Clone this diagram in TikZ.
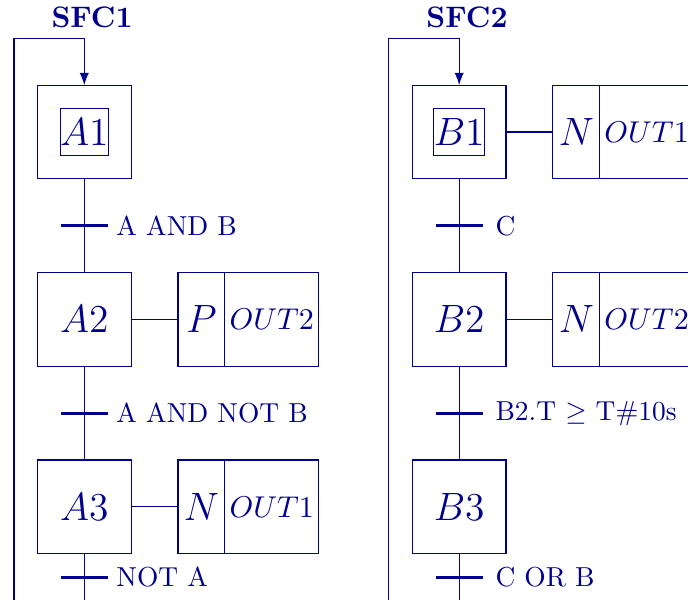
\documentclass[tikz,border=0pt]{standalone}
\usepackage{xcolor}
\usepackage{amsmath,amssymb}
\usepackage{tikz}
\usetikzlibrary{arrows.meta,positioning,calc}
\definecolor{SFCnavy}{HTML}{00008B}
\tikzset{
  sfc/stepbox/.style={draw, outer sep=0pt, inner sep=0pt, minimum width=12mm, minimum height=12mm, font=\fontsize{13.5}{16}\selectfont},
  sfc/initbox/.style={draw, outer sep=0pt, inner sep=0pt, minimum width=6mm, minimum height=6mm, font=\fontsize{13.5}{16}\selectfont},
  sfc/qual/.style={draw, outer sep=0pt, inner sep=0pt, minimum width=6mm, minimum height=12mm, font=\fontsize{13.5}{16}\selectfont},
  sfc/action/.style={draw, outer sep=0pt, inner sep=0pt, minimum width=12mm, minimum height=12mm, font=\fontsize{10.5}{12}\selectfont},
  sfc/trans/.style={fill, outer sep=0pt, inner sep=0pt, minimum width=6mm, minimum height=1.2pt},
  sfc/cond/.style={inner sep=3pt},
  sfc/title/.style={font=\fontsize{10.8}{13}\selectfont\bfseries, above, inner sep=3.5pt},
  arr/.style={-{Latex[length=4.5pt,width=3.4pt]}}
}

\begin{document}
\begin{tikzpicture}[color=SFCnavy, node distance=12mm]
\path[use as bounding box, clip] (-1.079,-5.992) rectangle (7.730,1.690);
% SFC1
\node[sfc/stepbox] (A1) {};
\node[sfc/initbox] (A1i) at (A1) {$A1$};
\node[sfc/stepbox, below=of A1] (A2) {$A2$};
\node[sfc/stepbox, below=of A2] (A3) {$A3$};
\node[sfc/trans] (tA1) at ($(A1.south)!0.5!(A2.north)$) {};
\node[sfc/trans] (tA2) at ($(A2.south)!0.5!(A3.north)$) {};
\node[sfc/trans] (tA3) at ($(A3.south)+(0,-3mm)$) {};
\node[sfc/cond, right=0pt of tA1] (cA1) {A AND B};
\node[sfc/cond, right=0pt of tA2] (cA2) {A AND NOT B};
\node[sfc/cond, right=0pt of tA3] (cA3) {NOT A};
\node[sfc/qual, right=6mm of A2] (A2q) {$P$};
\node[sfc/action, right=0pt of A2q] (A2a) {$OUT2$};
\node[sfc/qual, right=6mm of A3] (A3q) {$N$};
\node[sfc/action, right=0pt of A3q] (A3a) {$OUT1$};
\coordinate[above=6mm of A1] (A1top);
\coordinate (A1loop) at ($(A1top)+(-9mm,0)$);
\node[sfc/title, xshift=1mm] (sfc1) at (A1top) {SFC1};
\draw (A1) -- (A2) (A2) -- (A3);
\draw (A2) -- (A2q) (A3) -- (A3q);
\draw[arr] (A3.south) -- ++(0,-10mm) -| (A1loop) -- (A1top) -- (A1);
% SFC2
\node[sfc/stepbox, right=36mm of A1] (B1) {};
\node[sfc/initbox] (B1i) at (B1) {$B1$};
\node[sfc/stepbox, below=of B1] (B2) {$B2$};
\node[sfc/stepbox, below=of B2] (B3) {$B3$};
\node[sfc/trans] (tB1) at ($(B1.south)!0.5!(B2.north)$) {};
\node[sfc/trans] (tB2) at ($(B2.south)!0.5!(B3.north)$) {};
\node[sfc/trans] (tB3) at ($(B3.south)+(0,-3mm)$) {};
\node[sfc/cond, right=1.5pt of tB1] (cB1) {C};
\node[sfc/cond, right=1.5pt of tB2] (cB2) {B2.T $\geq$ T\#10s};
\node[sfc/cond, right=1.5pt of tB3] (cB3) {C OR B};
\node[sfc/qual, right=6mm of B1] (B1q) {$N$};
\node[sfc/action, right=0pt of B1q] (B1a) {$OUT1$};
\node[sfc/qual, right=6mm of B2] (B2q) {$N$};
\node[sfc/action, right=0pt of B2q] (B2a) {$OUT2$};
\coordinate[above=6mm of B1] (B1top);
\coordinate (B1loop) at ($(B1top)+(-9mm,0)$);
\node[sfc/title, xshift=1mm] (sfc2) at (B1top) {SFC2};
\draw (B1) -- (B2) (B2) -- (B3);
\draw (B1) -- (B1q) (B2) -- (B2q);
\draw[arr] (B3.south) -- ++(0,-10mm) -| (B1loop) -- (B1top) -- (B1);
\end{tikzpicture}
\end{document}
